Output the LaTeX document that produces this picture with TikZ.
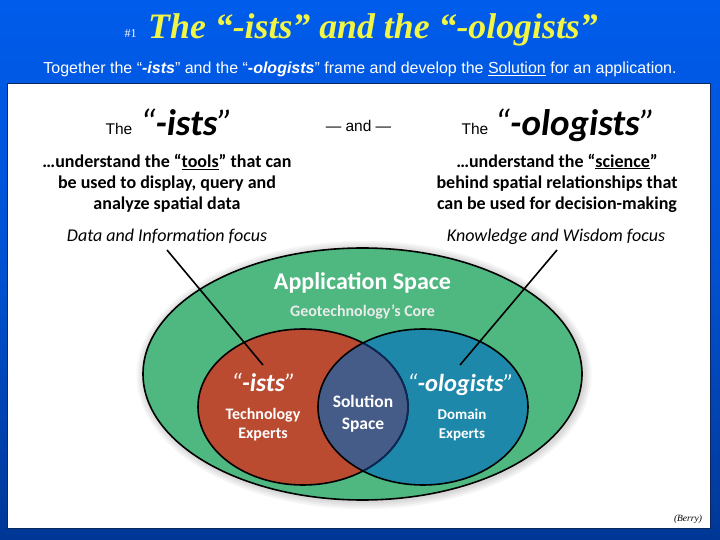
\documentclass[tikz,border=0pt]{standalone}
\usepackage{fontspec}
\setmainfont{Carlito}
\newfontfamily\arialf{Liberation Sans}
\newfontfamily\timesf{Liberation Serif}
\definecolor{topblue}{RGB}{0,92,235}
\definecolor{botblue}{RGB}{0,55,150}
\definecolor{ttl}{RGB}{240,245,70}
\definecolor{appgreen}{RGB}{78,184,128}
\definecolor{redc}{RGB}{186,74,48}
\definecolor{bluec}{RGB}{30,136,170}
\definecolor{midc}{RGB}{70,92,136}
\definecolor{navyline}{RGB}{12,40,90}
\newcommand{\thinq}[1]{{\mdseries #1}}
\tikzset{
 x=1pt,y=-1pt,
 txt/.style={inner sep=0pt,align=center,text=black},
 body/.style={txt,font=\fontsize{18}{21}\selectfont\bfseries},
 focus/.style={txt,font=\fontsize{18}{20}\selectfont\itshape},
 thew/.style={txt,font=\arialf\fontsize{15.5}{17}\selectfont},
 big/.style={txt,anchor=base,font=\fontsize{37}{40}\selectfont\bfseries\itshape},
 wh/.style={inner sep=0pt,align=center,text=white,font=\bfseries},
 outl/.style={draw=black,line width=1.6pt},
 ptr/.style={draw=black,line width=1.6pt},
 glow/.style={fill=black,opacity=.04},
}
\begin{document}
\begin{tikzpicture}
\useasboundingbox (0,0) rectangle (720,540);
\fill[top color=topblue,bottom color=botblue,middle color=topblue!70!botblue] (0,0) rectangle (720,540);
\node[inner sep=0pt,text=white,font=\timesf\fontsize{12}{14}\selectfont] (num) at (130.5,33.5) {\#1};
\node[inner sep=0pt,text=ttl,font=\timesf\fontsize{35.8}{40}\selectfont\bfseries\itshape] (title) at (373,30) {The “-ists” and the “-ologists”};
\node[inner sep=0pt,text=white,font=\arialf\fontsize{16}{18}\selectfont] (sub) at (360,69.5) {Together the “\textbf{\textit{-ists}}” and the “\textbf{\textit{-ologists}}” frame and develop the \underline{Solution} for an application.};
\fill[white,draw=navyline,line width=1pt] (7,84) rectangle (710,528);
\node[thew] (the1) at (119,128.5) {The};
\node[big] (ists) at (186.5,136) {\thinq{“}-ists\thinq{”}};
\node[thew] (and) at (358.5,125.5) {— and —};
\node[thew] (the2) at (475,128.5) {The};
\node[big] (olog) at (575,136) {\thinq{“}-ologists\thinq{”}};
\node[body] (t1) at (167,183) {…understand the “\underline{tools}” that can\\be used to display, query and\\analyze spatial data};
\node[body] (t2) at (557,183) {…understand the “\underline{science}”\\behind spatial relationships that\\can be used for decision-making};
\node[focus] (f1) at (167,236) {Data and Information focus};
\node[focus] (f2) at (556,237) {Knowledge and Wisdom focus};
\foreach \g in {8,6,4,2}{
 \path[glow] (364,375) ellipse [x radius=219.5+\g,y radius=126+\g];
}
\path[fill=appgreen,outl] (362.5,374) ellipse [x radius=219.5,y radius=126];
\path[fill=redc] (303,407) ellipse [x radius=105,y radius=78];
\path[fill=bluec] (423,407) ellipse [x radius=105,y radius=78];
\begin{scope}
\clip (303,407) ellipse [x radius=105,y radius=78];
\fill[midc] (423,407) ellipse [x radius=105,y radius=78];
\end{scope}
\draw[outl] (303,407) ellipse [x radius=105,y radius=78];
\draw[outl] (423,407) ellipse [x radius=105,y radius=78];
\begin{scope}
\clip (423,407) ellipse [x radius=104,y radius=77];
\draw[navyline,line width=1.6pt] (303,407) ellipse [x radius=105,y radius=78];
\end{scope}
\node[wh,font=\fontsize{24}{28}\selectfont\bfseries] (app) at (362.5,283) {Application Space};
\node[wh,font=\fontsize{16}{18}\selectfont\bfseries,text=white!92!black] (core) at (362.5,312) {Geotechnology’s Core};
\node[wh,anchor=base,font=\fontsize{25.5}{28}\selectfont\bfseries\itshape] (l1) at (263.5,391) {\thinq{“}-ists\thinq{”}};
\node[wh,font=\fontsize{16}{19}\selectfont\bfseries] (l2) at (263,424.5) {Technology\\Experts};
\node[wh,anchor=base,font=\fontsize{24.5}{28}\selectfont\bfseries\itshape] (r1) at (460.5,391) {\thinq{“}-ologists\thinq{”}};
\node[wh,font=\fontsize{15}{19}\selectfont\bfseries] (r2) at (462,424.5) {Domain\\Experts};
\node[wh,font=\fontsize{17.5}{22}\selectfont\bfseries] (sol) at (363,414) {Solution\\Space};
\node[txt,font=\timesf\fontsize{9.5}{11}\selectfont\itshape] (berry) at (688,519) {(Berry)};
\coordinate (a1) at (167,250);
\coordinate (a2) at (263,365);
\coordinate (b1) at (557,250);
\coordinate (b2) at (460,365);
\draw[ptr] (a1) -- (a2);
\draw[ptr] (b1) -- (b2);
\end{tikzpicture}
\end{document}
